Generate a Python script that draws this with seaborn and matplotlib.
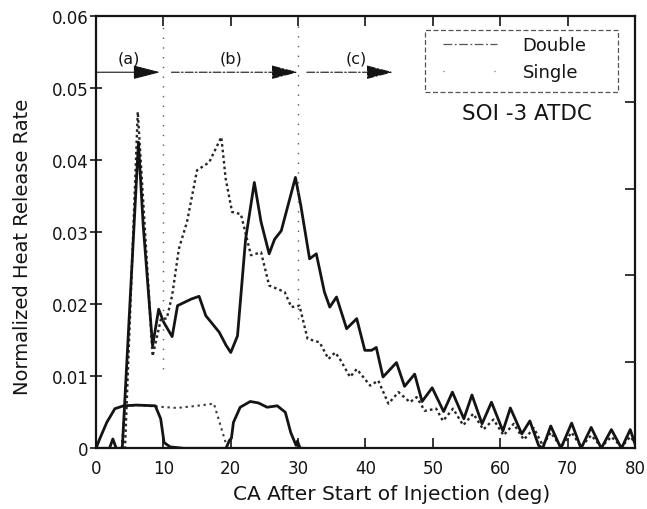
import numpy as np
import pandas as pd
import matplotlib
matplotlib.use("Agg")
import matplotlib.pyplot as plt
from matplotlib.lines import Line2D
from matplotlib.patches import Rectangle
import seaborn as sns

# Heat release rate, double injection (crank angle, normalized rate)
double_ca = [0, 2.0, 2.5, 3.0, 3.9, 6.3, 7.0, 8.4, 9.3, 10.05, 11.3, 12.1, 14.1, 15.3,
             16.3, 18.3, 19.3, 20.0, 21.0, 22.2, 23.5, 24.5, 25.7, 26.5, 27.5, 29.6,
             30.4, 31.7, 32.7, 33.9, 34.7, 35.7, 37.2, 38.7, 39.9, 40.9, 41.6, 42.6,
             44.6, 45.8, 47.3, 48.4, 49.9, 51.6, 52.9, 54.6, 55.8, 57.3, 58.7, 60.4,
             61.5, 63.2, 64.4, 65.7, 66.3, 67.5, 69.0, 70.6, 72.0, 73.5, 75.0, 76.5,
             78.0, 79.3, 80.0]
double_hrr = [0, 0, 0.0013, 0, 0, 0.0425, 0.031, 0.0142, 0.0193, 0.0175, 0.0155, 0.0198,
              0.0207, 0.0211, 0.0184, 0.0161, 0.0143, 0.0133, 0.0156, 0.029, 0.0369,
              0.0314, 0.027, 0.029, 0.0302, 0.0376, 0.0337, 0.0263, 0.027, 0.0217,
              0.0196, 0.021, 0.0166, 0.018, 0.0136, 0.0136, 0.014, 0.0099, 0.0119,
              0.0086, 0.0103, 0.0065, 0.0084, 0.0051, 0.0078, 0.0041, 0.0074, 0.0034,
              0.0064, 0.0024, 0.0056, 0.002, 0.0038, 0.0004, 0.0, 0.0031, 0.0, 0.0035,
              0.0, 0.0029, 0.0, 0.0026, 0.0, 0.0026, 0.0006]

# Heat release rate, single injection
single_ca = [0, 4.3, 6.2, 8.4, 9.65, 10.5, 11.3, 12.3, 13.5, 15.0, 16.8, 18.6, 19.25,
             20.2, 21.5, 23.0, 24.5, 25.7, 28.0, 29.0, 30.2, 31.4, 33.2, 34.5, 35.5,
             36.2, 37.7, 38.7, 40.7, 41.9, 43.4, 44.9, 46.6, 47.6, 48.8, 50.5, 51.5,
             53.0, 54.5, 56.0, 57.5, 59.0, 60.5, 62.0, 63.5, 65.0, 66.3, 67.5, 69.0,
             70.6, 72.0, 73.5, 75.0, 76.5, 78.0, 79.3, 80.0]
single_hrr = [0, 0, 0.0467, 0.0128, 0.018, 0.018, 0.0212, 0.0277, 0.0314, 0.0386, 0.0397,
              0.0432, 0.0374, 0.0328, 0.0325, 0.0268, 0.0272, 0.0226, 0.0217, 0.0196,
              0.0198, 0.0152, 0.0147, 0.0124, 0.0133, 0.0124, 0.0099, 0.011, 0.0087,
              0.0094, 0.0062, 0.0078, 0.0064, 0.0071, 0.0052, 0.0055, 0.0038, 0.0055,
              0.0032, 0.0048, 0.0026, 0.004, 0.0018, 0.0034, 0.0012, 0.0028, 0.0004,
              0.0022, 0.0002, 0.0022, 0.0002, 0.0018, 0.0002, 0.0016, 0.0002, 0.0016,
              0.0008]

# Injection rate traces (same normalized scale)
double_inj_ca = [0, 0.5, 1.6, 2.8, 4.1, 6.0, 8.8, 9.6, 10.1, 11.0, 13.0, 19.3, 19.8,
                 20.1, 20.4, 21.4, 22.9, 24.1, 25.4, 26.9, 28.1, 28.9, 29.7, 29.9,
                 30.3, 31.0]
double_inj = [0, 0.0012, 0.0036, 0.0055, 0.0059, 0.006, 0.0059, 0.0041, 0.0008, 0.0002,
              0, 0, 0.0011, 0.0014, 0.0036, 0.0057, 0.0065, 0.0063, 0.0057, 0.0059,
              0.005, 0.0022, 0.0004, 0.0010, 0.0, 0.0]

single_inj_ca = [3.8, 4.3, 6.0, 9.0, 12.0, 15.0, 17.5, 18.5, 19.5, 21.0]
single_inj = [0, 0.0058, 0.006, 0.0058, 0.0056, 0.0059, 0.0062, 0.0031, 0.0, 0.0]

# Combustion phases
phase_labels = ["(a)", "(b)", "(c)"]
phase_label_x = [4.9, 20.1, 38.7]
phase_start = [0.0, 11.2, 31.3]
phase_end = [9.5, 30.0, 44.1]
phase_bounds = [10, 30]
phase_bound_bottom = [0.011, 0.018]

sns.set_theme(style="ticks")
plt.rcParams["font.family"] = ["DejaVu Sans"]

fig = plt.figure(figsize=(6.47, 5.10), dpi=100)
ax = fig.add_axes([0.1484, 0.119, 0.833, 0.8476])

df_double = pd.DataFrame({"ca": double_ca, "hrr": double_hrr})
df_single = pd.DataFrame({"ca": single_ca, "hrr": single_hrr})
df_dinj = pd.DataFrame({"ca": double_inj_ca, "rate": double_inj})
df_sinj = pd.DataFrame({"ca": single_inj_ca, "rate": single_inj})

black = "#141414"
sns.lineplot(data=df_single, x="ca", y="hrr", ax=ax, color="#262626", lw=1.7,
             linestyle=(0, (1.1, 1.3)), sort=False, estimator=None)
sns.lineplot(data=df_sinj, x="ca", y="rate", ax=ax, color="#3a3a3a", lw=1.5,
             linestyle=(0, (1.1, 1.8)), sort=False, estimator=None)
sns.lineplot(data=df_double, x="ca", y="hrr", ax=ax, color=black, lw=2.0,
             sort=False, estimator=None)
sns.lineplot(data=df_dinj, x="ca", y="rate", ax=ax, color=black, lw=2.0,
             sort=False, estimator=None)

# Phase boundaries
for xb, yb in zip(phase_bounds, phase_bound_bottom):
    ax.plot([xb, xb], [yb, 0.06], color="#5a5a5a", lw=1.0, linestyle=(0, (1, 6)))

# Phase arrows and labels
arrow_y = 0.0522
for i, (x0, x1) in enumerate(zip(phase_start, phase_end)):
    ls = "-" if i == 0 else (0, (7, 2, 1.5, 2))
    ax.annotate("", xy=(x1, arrow_y), xytext=(x0, arrow_y),
                arrowprops=dict(arrowstyle="-|>,head_length=1.4,head_width=0.36",
                                color=black, lw=0.8, linestyle=ls,
                                shrinkA=0, shrinkB=0))
    ax.text(phase_label_x[i], 0.0542, phase_labels[i], ha="center", va="center",
            fontsize=11.5, color=black)

ax.text(64.0, 0.0466, "SOI -3 ATDC", ha="center", va="center", fontsize=15.5,
        color=black)

# Legend with a dashed frame
ax.add_patch(Rectangle((48.8, 0.04944), 77.5 - 48.8, 0.0580 - 0.04944,
                       fill=False, edgecolor="#555555", lw=0.9,
                       linestyle=(0, (4, 2)), zorder=4))
handles = [Line2D([], [], color="#555555", lw=0.9, linestyle=(0, (7, 2, 1.5, 2))),
           Line2D([], [], color="#555555", lw=0.9, linestyle=(0, (0.8, 40)))]
leg = ax.legend(handles, ["Double", "Single"], loc="upper left",
                bbox_to_anchor=(443 / 647, 1 - 37 / 510),
                bbox_transform=fig.transFigure, fontsize=13, frameon=False,
                handlelength=3.0, handletextpad=1.4, borderpad=0,
                borderaxespad=0, labelspacing=0.52)
for t in leg.get_texts():
    t.set_color(black)

ax.set_xlim(0, 80)
ax.set_ylim(0, 0.06)
ax.set_xticks(np.arange(0, 81, 10))
ax.set_yticks(np.arange(0, 0.061, 0.01))
ax.set_yticklabels(["0", "0.01", "0.02", "0.03", "0.04", "0.05", "0.06"])
ax.set_xlabel("CA After Start of Injection (deg)", fontsize=14.5, color=black)
ax.set_ylabel("Normalized Heat Release Rate", fontsize=14, color=black)
ax.xaxis.set_label_coords(0.549, -0.082)
ax.yaxis.set_label_coords(-0.118, 0.468)

for sp in ax.spines.values():
    sp.set_visible(True)
    sp.set_linewidth(1.6)
    sp.set_color(black)
ax.tick_params(axis="x", direction="in", length=7, width=1.2, top=True,
               labelsize=12, colors=black, pad=8)
ax.tick_params(axis="y", direction="inout", length=9, width=1.2, right=False,
               labelsize=12, colors=black, pad=1)

# Right-hand scale of the injection trace: five divisions, unlabeled
ax2 = ax.twinx()
ax2.set_ylim(0, 5)
ax2.set_yticks([1, 2, 3, 4])
ax2.tick_params(axis="y", direction="in", length=7, width=1.2, labelright=False,
                colors=black)
for sp in ax2.spines.values():
    sp.set_visible(False)

fig.savefig("out.png", dpi=100, facecolor="white")
